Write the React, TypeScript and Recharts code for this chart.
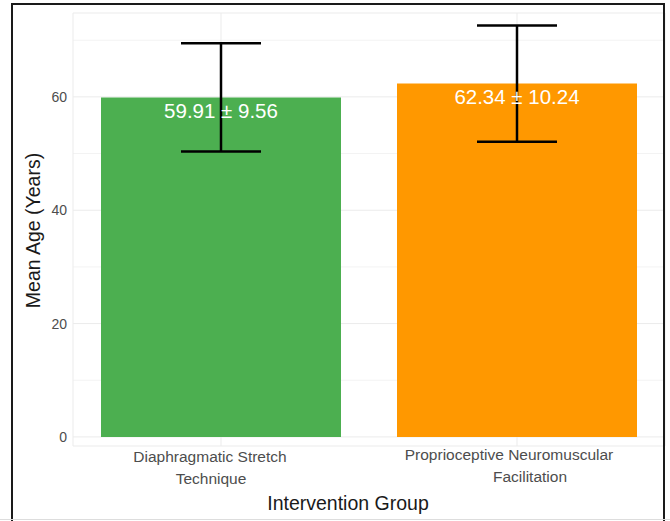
import {
  Bar,
  BarChart,
  CartesianGrid,
  Cell,
  ErrorBar,
  LabelList,
  XAxis,
  YAxis,
} from "recharts";

const categories = [
  "Diaphragmatic Stretch Technique",
  "Proprioceptive Neuromuscular Facilitation",
];
const tickLines = [
  ["Diaphragmatic Stretch", "Technique"],
  ["Proprioceptive Neuromuscular", "Facilitation"],
];
const means = [59.91, 62.34];
const sds = [9.56, 10.24];
const barColors = ["#4CAF50", "#FF9800"];
const yTicks = [0, 20, 40, 60];
const minorTicks = [10, 30, 50, 70];

const data = categories.map((name, i) => ({
  name,
  mean: means[i],
  sd: sds[i],
  label: `${means[i].toFixed(2)} ± ${sds[i].toFixed(2)}`,
}));

const FONT = '"Liberation Sans", Arial, sans-serif';

// the original's wrapped labels sit a little off the bar centres
const tickNudge = [
  { dy: 0, dx: [-11, -10] },
  { dy: -2, dx: [-8, 13] },
];

function CategoryTick(props: any) {
  const { x, y, payload } = props;
  const idx = categories.indexOf(payload.value);
  const lines = tickLines[idx] ?? [payload.value];
  const nudge = tickNudge[idx] ?? { dy: 0, dx: [0, 0] };
  return (
    <text
      x={x}
      y={y + nudge.dy}
      textAnchor="middle"
      fill="#4d4d4d"
      fontSize={15.5}
    >
      {lines.map((ln, i) => (
        <tspan key={i} x={x + (nudge.dx[i] ?? 0)} dy={i === 0 ? 16 : 22}>
          {ln}
        </tspan>
      ))}
    </text>
  );
}

function XTitle(props: any) {
  const vb = props.viewBox ?? {};
  return (
    <text
      x={vb.x + vb.width / 2 - 21}
      y={vb.y + 64}
      textAnchor="middle"
      fill="#1a1a1a"
      fontSize={19.5}
    >
      Intervention Group
    </text>
  );
}

function YTitle(props: any) {
  const vb = props.viewBox ?? {};
  const cx = 33;
  const cy = vb.y + vb.height / 2 + 1;
  return (
    <text
      x={cx}
      y={cy}
      textAnchor="middle"
      dominantBaseline="central"
      transform={`rotate(-90, ${cx}, ${cy})`}
      fill="#1a1a1a"
      fontSize={19.5}
    >
      Mean Age (Years)
    </text>
  );
}

export default function App() {
  return (
    <div
      style={{
        position: "absolute",
        left: 0,
        top: 0,
        width: 670,
        height: 521,
        background: "#fff",
        fontFamily: FONT,
        overflow: "hidden",
      }}
    >
      <BarChart
        width={670}
        height={521}
        data={data}
        margin={{ top: 13, right: 5, left: 0, bottom: 0 }}
      >
        <CartesianGrid
          stroke="#f3f3f3"
          vertical={false}
          horizontalValues={minorTicks}
        />
        <CartesianGrid stroke="#ebebeb" />
        <XAxis
          dataKey="name"
          tick={<CategoryTick />}
          tickLine={false}
          axisLine={false}
          tickSize={0}
          tickMargin={0}
          interval={0}
          height={75}
          label={<XTitle />}
        />
        <YAxis
          type="number"
          domain={[-1.6, 74.8]}
          ticks={yTicks}
          allowDataOverflow
          tickLine={false}
          axisLine={false}
          tickMargin={0}
          width={73}
          tick={{ fill: "#4d4d4d", fontSize: 14 }}
          label={<YTitle />}
        />
        <Bar dataKey="mean" barSize={240} isAnimationActive={false}>
          {data.map((d, i) => (
            <Cell key={d.name} fill={barColors[i]} />
          ))}
          <LabelList
            dataKey="label"
            position="insideTop"
            offset={6}
            fill="#ffffff"
            fontSize={20.5}
          />
          <ErrorBar
            dataKey="sd"
            width={40}
            stroke="#000"
            strokeWidth={2.5}
            isAnimationActive={false}
          />
        </Bar>
      </BarChart>
      <div
        style={{
          position: "absolute",
          left: 11,
          top: 3,
          width: 650,
          height: 530,
          borderLeft: "2px solid #1a1a1a",
          borderTop: "2px solid #1a1a1a",
          borderRight: "2px solid #1a1a1a",
          pointerEvents: "none",
        }}
      />
      <div
        style={{
          position: "absolute",
          left: 0,
          top: 519,
          width: 670,
          height: 1,
          background: "#dddddd",
        }}
      />
    </div>
  );
}
